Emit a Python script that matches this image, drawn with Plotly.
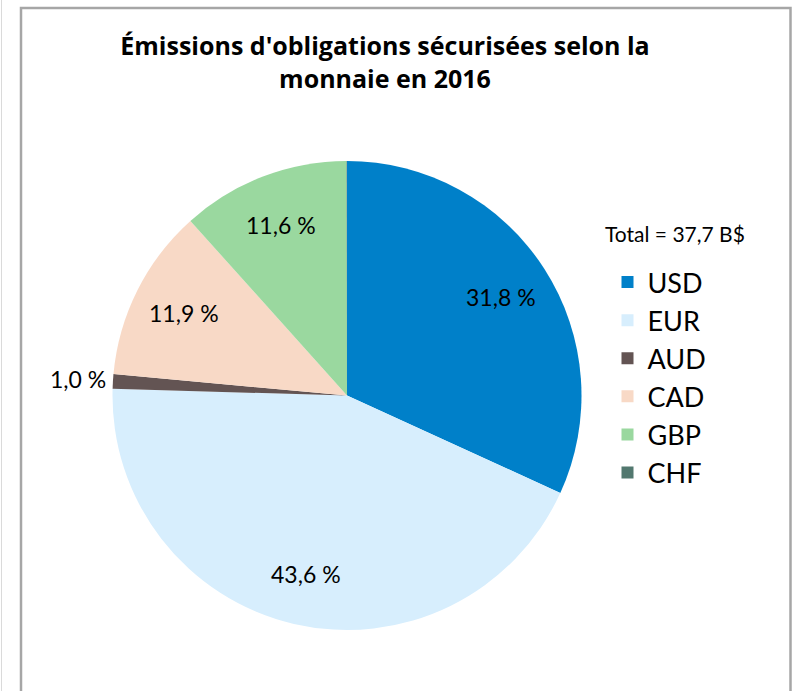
import math
import plotly.graph_objects as go

# ---- data ----
currencies = ["USD", "EUR", "AUD", "CAD", "GBP", "CHF"]
shares = [31.8, 43.6, 1.0, 11.9, 11.6, 0.03]
colors = ["#0080C9", "#D7EEFD", "#635453", "#F8D9C6", "#9AD89F", "#52786F"]
label_mode = ["inside", "inside", "outside", "inside", "inside", "none"]
title_text = "Émissions d'obligations sécurisées selon la<br>monnaie en 2016"
total_label = "Total = 37,7 B$"

W, H = 792, 691
# pie placement (pixels)
cx, cy, R = 347, 395.5, 234.5

fig = go.Figure()
fig.add_trace(go.Pie(
    labels=currencies,
    values=shares,
    sort=False,
    direction="clockwise",
    rotation=0,
    marker=dict(colors=colors, line=dict(width=0)),
    textinfo="none",
    hoverinfo="label+percent",
    domain=dict(x=[(cx - R) / W, (cx + R) / W], y=[1 - (cy + R) / H, 1 - (cy - R) / H]),
    showlegend=True,
))

# data labels derived from the values
total = sum(shares)
cum = 0.0
for name, v, mode in zip(currencies, shares, label_mode):
    mid = (cum + v / 2) / total * 2 * math.pi
    cum += v
    if mode == "none":
        continue
    rf = 0.78 if mode == "inside" else 1.15
    px = cx + rf * R * math.sin(mid)
    py = cy - rf * R * math.cos(mid)
    txt = f"{v:.1f}".replace(".", ",") + " %"
    fig.add_annotation(
        x=px / W, y=1 - py / H, xref="paper", yref="paper",
        text=txt, showarrow=False,
        xanchor="center", yanchor="middle",
        font=dict(family="Lato", size=23, color="#000000"),
    )

fig.add_annotation(
    x=603 / W, y=1 - 233 / H, xref="paper", yref="paper",
    text=total_label, showarrow=False, xanchor="left", yanchor="middle",
    font=dict(family="Lato", size=21, color="#000000"),
)

# frame
fig.add_shape(type="line", xref="paper", yref="paper",
              x0=1.5 / W, x1=1.5 / W, y0=0, y1=1,
              line=dict(color="#DADADA", width=1))
fig.add_shape(type="rect", xref="paper", yref="paper",
              x0=21 / W, x1=790.5 / W, y0=-0.05, y1=1 - 8 / H,
              line=dict(color="#A6A6A6", width=2.5))

fig.update_layout(
    width=W, height=H,
    margin=dict(l=0, r=0, t=0, b=0),
    paper_bgcolor="#FFFFFF",
    plot_bgcolor="#FFFFFF",
    title=dict(
        text=title_text,
        x=385 / W, xanchor="center",
        y=1 - 55 / H, yanchor="top", yref="container",
        font=dict(family="Open Sans", size=25, color="#000000", weight="bold"),
    ),
    legend=dict(
        x=607.5 / W, xanchor="left",
        y=1 - 258 / H, yanchor="top",
        font=dict(family="Lato", size=27, color="#000000"),
        bgcolor="rgba(0,0,0,0)",
        tracegroupgap=0,
    ),
)

fig.write_html("out.html", config={"displayModeBar": False},
               post_script="document.body.style.margin='0px';")
